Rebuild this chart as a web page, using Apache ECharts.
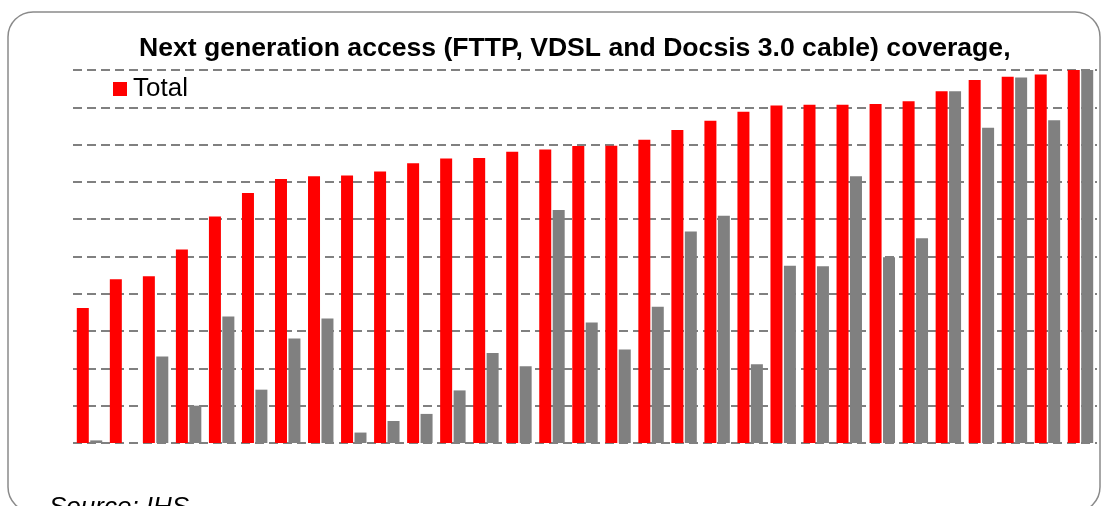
<!DOCTYPE html>
<html lang="en">
  <head>
    <meta charset="UTF-8" />
    <title>NGA coverage</title>
    <style>
      html, body { margin: 0; padding: 0; background: #ffffff; }
      #app { width: 1103px; height: 506px; }
    </style>
  </head>
  <body>
    <div id="app"></div>
    <script src="https://cdn.jsdelivr.net/npm/echarts@6/dist/echarts.min.js"></script>
    <script>
      // no axis labels in the picture, so the categories are just positions
      var categories = [
        '1', '2', '3', '4', '5', '6', '7', '8', '9', '10', '11', '12', '13', '14', '15', '16',
        '17', '18', '19', '20', '21', '22', '23', '24', '25', '26', '27', '28', '29', '30', '31'
      ]
      var totalValues = [
        36.2, 43.9, 44.7, 51.9, 60.7, 67.0, 70.8, 71.5, 71.7, 72.8, 75.0, 76.3, 76.4, 78.1, 78.7, 79.6,
        79.7, 81.3, 83.9, 86.4, 88.8, 90.5, 90.7, 90.7, 90.9, 91.6, 94.3, 97.3, 98.2, 98.8, 100
      ]
      var ruralValues = [
        0.7, 0, 23.2, 10.0, 33.9, 14.3, 28.0, 33.4, 2.8, 5.9, 7.8, 14.1, 24.1, 20.6, 62.5, 32.3,
        25.1, 36.5, 56.7, 60.9, 21.1, 47.5, 47.4, 71.5, 49.8, 54.9, 94.3, 84.5, 98.0, 86.5, 100
      ]

      var chart = echarts.init(document.getElementById('app'))

      var option = {
        animation: false,
        title: {
          text: 'Next generation access (FTTP, VDSL and Docsis 3.0 cable) coverage,',
          left: 134,
          top: 30,
          textStyle: {
            fontFamily: 'Liberation Sans, Arial, sans-serif',
            fontSize: 26.6,
            fontWeight: 'bold',
            color: '#000000'
          }
        },
        legend: {
          data: ['Total'],
          left: 113,
          top: 76,
          padding: 0,
          itemWidth: 14,
          itemHeight: 14,
          itemGap: 10,
          icon: 'rect',
          textStyle: {
            fontFamily: 'Liberation Sans, Arial, sans-serif',
            fontSize: 26,
            color: '#000000',
            padding: [0, 0, 0, 1]
          }
        },
        grid: {
          left: 73,
          right: 6,
          top: 70,
          bottom: 63,
          containLabel: false
        },
        xAxis: {
          type: 'category',
          data: categories,
          axisLine: { show: false },
          axisTick: { show: false },
          axisLabel: { show: false }
        },
        yAxis: {
          type: 'value',
          min: 0,
          max: 100,
          interval: 10,
          axisLine: { show: false },
          axisTick: { show: false },
          axisLabel: { show: false },
          splitLine: {
            lineStyle: { color: '#808080', width: 2, type: [9, 5] }
          }
        },
        series: [
          {
            name: 'Total',
            type: 'bar',
            data: totalValues,
            barWidth: 12,
            barGap: '12%',
            itemStyle: { color: '#ff0000' },
            z: 3
          },
          {
            name: 'Rural',
            type: 'bar',
            data: ruralValues,
            barWidth: 12,
            itemStyle: { color: '#808080' },
            z: 3
          }
        ],
        graphic: [
          {
            type: 'rect',
            shape: { x: 8, y: 12, width: 1092, height: 500, r: 25 },
            style: { fill: 'none', stroke: '#8a8a8a', lineWidth: 1.5 },
            silent: true
          },
          {
            type: 'text',
            x: 49,
            y: 495,
            style: {
              text: 'Source: IHS',
              fontFamily: 'Liberation Sans, Arial, sans-serif',
              fontSize: 26,
              fontStyle: 'italic',
              fill: '#000000',
              verticalAlign: 'top'
            },
            silent: true
          }
        ]
      }
      chart.setOption(option)
    </script>
  </body>
</html>
